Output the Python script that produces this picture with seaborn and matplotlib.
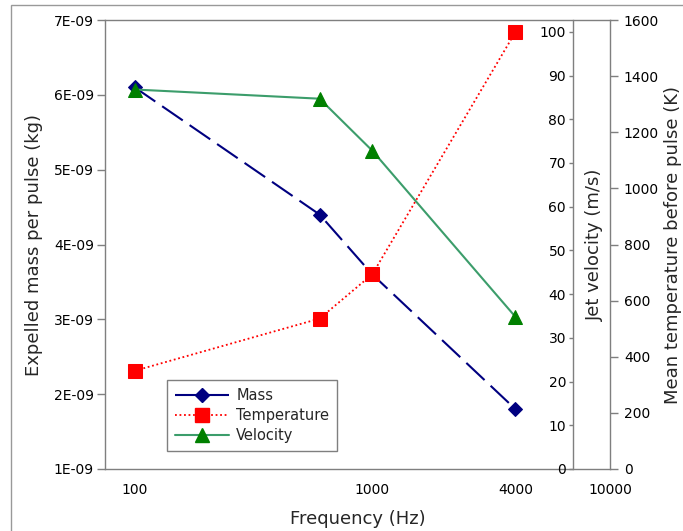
import matplotlib
matplotlib.use("Agg")
import matplotlib.pyplot as plt
import seaborn as sns
import pandas as pd
from matplotlib.patches import Rectangle
from matplotlib.ticker import FuncFormatter, NullLocator
from matplotlib.lines import Line2D

# Valeurs
freq = [100, 600, 1000, 4000]
mass = [6.1e-9, 4.4e-9, 3.6e-9, 1.8e-9]
temperature = [350, 536, 694, 1557]
velocity = [86.8, 84.7, 72.8, 34.8]

x_ticks = [100, 1000, 4000, 10000]
x_tick_labels = ["100", "1000", "4000", "10000"]
mass_ticks = [1e-9, 2e-9, 3e-9, 4e-9, 5e-9, 6e-9, 7e-9]
temp_ticks = list(range(0, 1601, 200))
vel_ticks = list(range(0, 101, 10))

sns.set_style("white")
plt.rcParams["font.family"] = ["DejaVu Sans"]

df = pd.DataFrame({"freq": freq, "mass": mass,
                   "temperature": temperature, "velocity": velocity})

W, H = 683, 531
fig = plt.figure(figsize=(W / 100, H / 100), dpi=100)
ax = fig.add_axes([105 / W, (H - 469) / H, 505 / W, 449 / H])
ax_t = ax.twinx()
ax_v = ax.twinx()

grey = "#7f7f7f"

sns.lineplot(data=df, x="freq", y="mass", ax=ax, color="#000080",
             linestyle=(0, (12, 4)), lw=1.5, marker="D", markersize=7,
             markeredgecolor="#000080", legend=False)
sns.lineplot(data=df, x="freq", y="temperature", ax=ax_t, color="#ff0000",
             linestyle=(0, (1, 1.5)), lw=1.3, marker="s", markersize=10,
             markeredgecolor="#ff0000", legend=False)
sns.lineplot(data=df, x="freq", y="velocity", ax=ax_v, color="#3c9d6b",
             lw=1.5, marker="^", markersize=10.5,
             markerfacecolor="#008000", markeredgecolor="#008000", legend=False)

# axe des fréquences
ax.set_xscale("log")
ax.set_xlim(75, 10000)
ax.set_xticks(x_ticks)
ax.set_xticklabels(x_tick_labels)
ax.xaxis.set_minor_locator(NullLocator())
ax.set_xlabel("Frequency (Hz)", fontsize=13)
ax.xaxis.set_label_coords(0.5, -0.092)

# masse
ax.set_ylim(1e-9, 7e-9)
ax.set_yticks(mass_ticks)
ax.yaxis.set_major_formatter(FuncFormatter(lambda v, p: f"{v:.0E}"))
ax.set_ylabel("Expelled mass per pulse (kg)", fontsize=13)
ax.yaxis.set_label_coords(-0.123, 0.5)

# température
ax_t.set_ylim(0, 1600)
ax_t.set_yticks(temp_ticks)
ax_t.set_ylabel("Mean temperature before pulse (K)", fontsize=13)
ax_t.yaxis.set_label_coords(1.107, 0.5)

# vitesse
ax_v.set_ylim(0, 102.7)
ax_v.set_yticks(vel_ticks)
ax_v.yaxis.set_ticks_position("left")
ax_v.spines["left"].set_position(("axes", (573 - 105) / 505))
ax_v.set_ylabel("Jet velocity (m/s)", fontsize=13)
ax_v.yaxis.set_label_coords(0.953, 0.5)

for a in (ax, ax_t, ax_v):
    for s in a.spines.values():
        s.set_color(grey)
        s.set_linewidth(1)
    a.tick_params(direction="out", color=grey, labelcolor="black",
                  labelsize=10, width=1)

ax.tick_params(axis="y", length=6, pad=2)
ax.tick_params(axis="x", length=6, pad=4)
ax_t.tick_params(axis="y", length=6, pad=4)
ax_v.tick_params(axis="y", length=3, pad=2)

ax.spines["right"].set_visible(False)
for k in ("left", "top", "bottom"):
    ax_t.spines[k].set_visible(False)
for k in ("right", "top", "bottom"):
    ax_v.spines[k].set_visible(False)

handles = [
    Line2D([], [], color="#000080", linestyle=(0, (12, 4)), lw=1.5,
           marker="D", markersize=7),
    Line2D([], [], color="#ff0000", linestyle=(0, (1, 1.5)), lw=1.3,
           marker="s", markersize=10),
    Line2D([], [], color="#3c9d6b", lw=1.5, marker="^", markersize=10.5,
           markerfacecolor="#008000", markeredgecolor="#008000"),
]
leg = ax_v.legend(handles, ["Mass", "Temperature", "Velocity"],
                  loc="lower left", bbox_to_anchor=(0.123, 0.04),
                  borderaxespad=0, fontsize=10.5, handlelength=3.7,
                  handletextpad=0.5, labelspacing=0.35, borderpad=0.55,
                  fancybox=False, framealpha=1, edgecolor=grey)
leg.get_frame().set_linewidth(1)

# cadre extérieur
fig.add_artist(Rectangle((11 / W, -0.05), 1.1, 1.05 - 5 / H,
                         transform=fig.transFigure, fill=False,
                         edgecolor="#999999", lw=1))

fig.savefig("out.png", dpi=100)
